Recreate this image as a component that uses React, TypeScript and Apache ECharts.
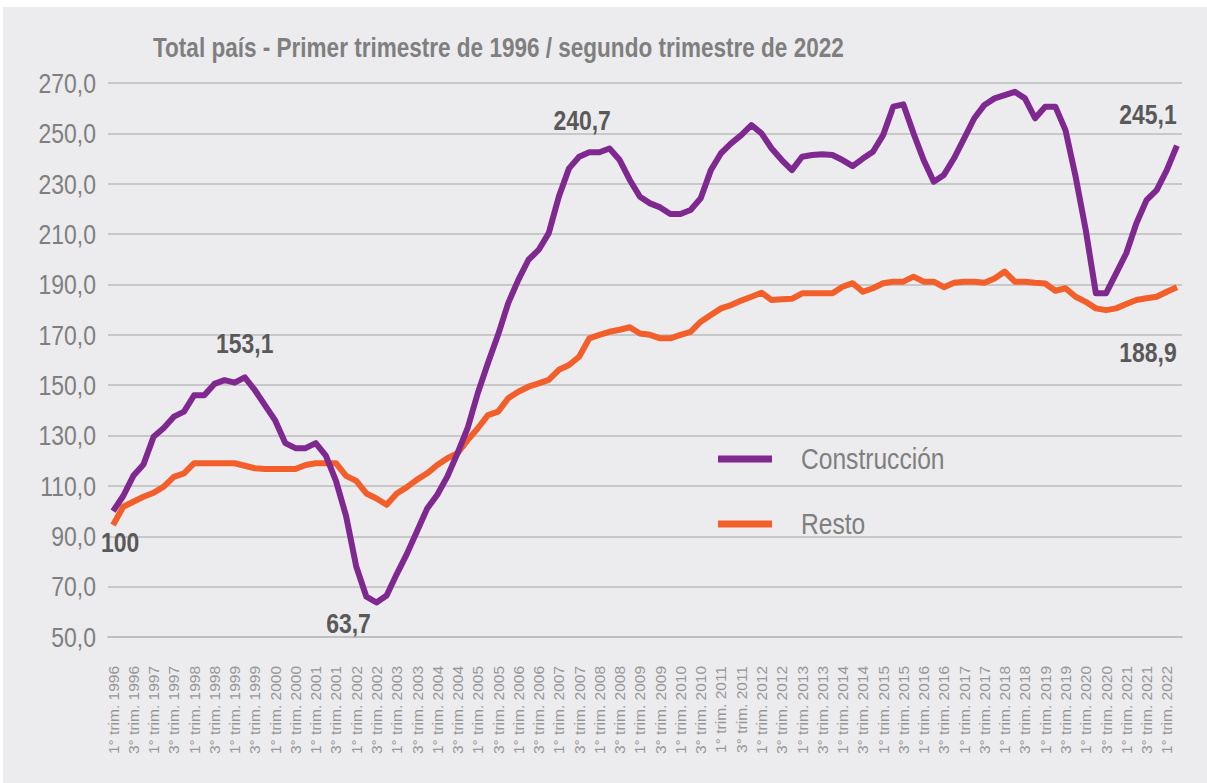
import React, { useEffect, useRef } from "react";
import * as echarts from "echarts";

const years: number[] = [];
for (let y = 1996; y <= 2022; y++) years.push(y);

// Quarter categories: 1° trim. 1996 ... 2° trim. 2022
const categories: string[] = [];
years.forEach((y) => {
  [1, 2, 3, 4].forEach((q) => {
    if (y === 2022 && q > 2) return;
    categories.push(`${q}° trim. ${y}`);
  });
});

const construccion: number[] = [
  100, 106, 114, 118.5, 129.5, 133, 137.5, 139.5, 146, 146,
  150.5, 152, 151, 153.1, 148, 142, 136, 127, 125, 125,
  127, 122, 112, 98, 78, 66, 63.7, 66.5, 75, 83,
  92, 101, 106.5, 113.8, 123, 133, 146.9, 158.8, 170, 182.6,
  191.8, 199.8, 203.7, 210.4, 224.9, 236.1, 240.7, 242.5, 242.5, 244,
  239.4, 231.5, 224.8, 222.2, 220.6, 218, 218, 219.6, 224.2, 235.4,
  242.1, 246, 249.3, 253.3, 250, 244, 239.4, 235.4, 240.7, 241.4,
  241.7, 241.4, 239.4, 237, 240, 242.7, 249.3, 260.6, 261.5, 250,
  239.4, 230.8, 233.5, 240.1, 248, 256, 261.3, 263.9, 265.2, 266.5,
  263.9, 256, 260.6, 260.6, 251.3, 232.8, 211.6, 186.5, 186.5, 194.4,
  202.4, 214.3, 223.5, 227.5, 235.4, 245.1,
];

const resto: number[] = [
  94.5, 101.7, 103.7, 105.7, 107.3, 109.7, 113.6, 115, 119, 119,
  119, 119, 119, 118, 117, 116.7, 116.7, 116.7, 116.7, 118.3,
  119, 119, 119, 114, 112, 107, 105, 102.5, 107, 109.5,
  112.5, 115, 118.3, 121, 123, 128.2, 132.9, 138.1, 139.5, 144.8,
  147.4, 149.4, 150.7, 152.1, 156.1, 158, 161.3, 168.6, 170, 171.2,
  172, 173, 170.5, 170, 168.6, 168.6, 170, 171.2, 175.2, 177.9,
  180.5, 181.8, 183.6, 185.1, 186.7, 183.8, 184.1, 184.3, 186.5, 186.5,
  186.5, 186.5, 189.1, 190.5, 187.1, 188.5, 190.5, 191.1, 191.1, 193.1,
  191.1, 191.1, 188.9, 190.7, 191.1, 191.1, 190.7, 192.4, 195.1, 191.1,
  191.1, 190.7, 190.4, 187.5, 188.5, 185.1, 183.1, 180.5, 179.8, 180.5,
  182.2, 183.8, 184.5, 185.1, 187.1, 188.9,
];

const seriesNames = ["Construcción", "Resto"];
const seriesColors = ["#7f2990", "#f35f2b"];
const yTicks = { min: 50, max: 270, interval: 20 };
const titleText = "Total país - Primer trimestre de 1996 / segundo trimestre de 2022";

// annotated points: series index, point index, label offset from the point
const notes = [
  { s: 0, index: 0, offset: [7, 31] },
  { s: 0, index: 13, offset: [0, -34] },
  { s: 0, index: 26, offset: [-28, 21] },
  { s: 0, index: 46, offset: [3, -37] },
  { s: 0, index: 105, offset: [-29, -32] },
  { s: 1, index: 105, offset: [-29, 65] },
];

const ARIAL = "'Liberation Sans', Arial, sans-serif";
const NARROW_SCALE = 0.82;
const fmt = (v: number) => (Number.isInteger(v) ? String(v) : v.toFixed(1).replace(".", ","));

export default function App() {
  const ref = useRef<HTMLDivElement>(null);
  useEffect(() => {
    document.body.style.margin = "0";
    if (!ref.current) return;
    const chart = echarts.init(ref.current, undefined, { renderer: "svg" });
    const gridLeft = 105;
    chart.setOption({
      animation: false,
      backgroundColor: "#ececee",
      grid: { left: gridLeft, right: 25, top: 76, bottom: 146 },
      xAxis: {
        type: "category",
        data: categories,
        boundaryGap: true,
        axisLine: { show: true, lineStyle: { color: "#bcbcbc", width: 1.5 } },
        axisTick: { show: false },
        axisLabel: {
          rotate: 90,
          interval: 1,
          fontSize: 15.5,
          margin: 29,
          color: "#979797",
          fontFamily: ARIAL,
        },
      },
      yAxis: {
        type: "value",
        min: yTicks.min,
        max: yTicks.max,
        interval: yTicks.interval,
        axisLine: { show: false },
        axisTick: { show: false },
        splitLine: { lineStyle: { color: "#bcbcbc", width: 1.5 } },
        axisLabel: { show: false },
      },
      series: [
        {
          name: seriesNames[0],
          type: "line",
          data: construccion,
          showSymbol: false,
          color: seriesColors[0],
          lineStyle: { width: 6, color: seriesColors[0], join: "round" },
          z: 3,
        },
        {
          name: seriesNames[1],
          type: "line",
          data: resto,
          showSymbol: false,
          color: seriesColors[1],
          lineStyle: { width: 6, color: seriesColors[1], join: "round" },
          z: 2,
        },
      ],
    });

    // narrow (condensed) texts, placed through the chart's own scales
    const graphics: any[] = [];
    graphics.push({
      type: "text",
      x: 150,
      y: 40,
      scaleX: NARROW_SCALE,
      style: {
        text: titleText,
        fontFamily: ARIAL,
        fontWeight: "bold",
        fontSize: 27.5,
        fill: "#7f7f7f",
        align: "left",
        verticalAlign: "middle",
      },
    });
    for (let v = yTicks.min; v <= yTicks.max; v += yTicks.interval) {
      const py = chart.convertToPixel({ yAxisIndex: 0 }, v) as number;
      graphics.push({
        type: "text",
        x: gridLeft - 12,
        y: py,
        scaleX: NARROW_SCALE,
        style: {
          text: v.toFixed(1).replace(".", ","),
          fontFamily: ARIAL,
          fontSize: 28,
          fill: "#7f7f7f",
          align: "right",
          verticalAlign: "middle",
        },
      });
    }
    const seriesData = [construccion, resto];
    notes.forEach((n) => {
      const val = seriesData[n.s][n.index];
      const p = chart.convertToPixel({ xAxisIndex: 0, yAxisIndex: 0 }, [n.index, val]) as number[];
      graphics.push({
        type: "text",
        x: p[0] + n.offset[0],
        y: p[1] + n.offset[1],
        scaleX: NARROW_SCALE,
        style: {
          text: fmt(val),
          fontFamily: ARIAL,
          fontWeight: "bold",
          fontSize: 28,
          fill: "#595959",
          align: "center",
          verticalAlign: "middle",
        },
      });
    });
    // legend
    const legendY = [452, 517];
    seriesNames.forEach((name, i) => {
      graphics.push({
        type: "line",
        shape: { x1: 715, y1: legendY[i], x2: 769, y2: legendY[i] },
        style: { stroke: seriesColors[i], lineWidth: 7 },
      });
      graphics.push({
        type: "text",
        x: 798,
        y: legendY[i],
        scaleX: NARROW_SCALE,
        style: {
          text: name,
          fontFamily: ARIAL,
          fontSize: 30,
          fill: "#7f7f7f",
          align: "left",
          verticalAlign: "middle",
        },
      });
    });
    chart.setOption({ graphic: graphics });
    return () => chart.dispose();
  }, []);
  return (
    <div style={{ position: "relative", width: 1207, height: 783, background: "#ffffff" }}>
      <div ref={ref} style={{ position: "absolute", left: 3, top: 7, width: 1204, height: 776 }} />
    </div>
  );
}
